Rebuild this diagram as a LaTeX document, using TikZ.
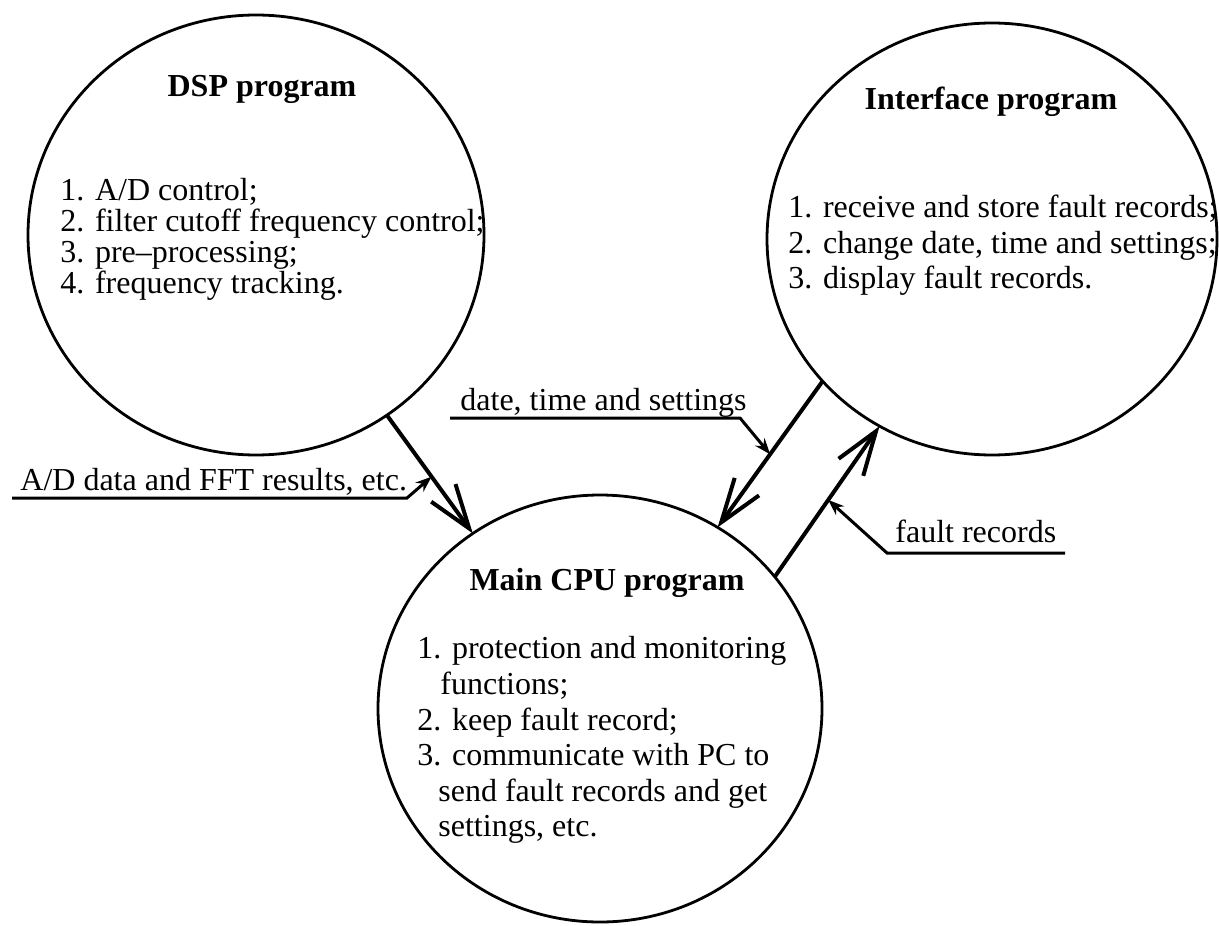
\documentclass[tikz,border=0pt]{standalone}
\usepackage{fontspec}
\setmainfont{Liberation Serif}
\usetikzlibrary{shapes.geometric,arrows.meta}
\begin{document}
\begin{tikzpicture}[x=0.5pt,y=-0.5pt,
  prog/.style={draw, ellipse, line width=1.4pt, inner sep=0pt, outer sep=0pt},
  title/.style={font=\fontsize{16}{18}\selectfont\bfseries, inner sep=0pt, anchor=base},
  item/.style={font=\fontsize{16}{18}\selectfont, inner sep=0pt, anchor=base west},
  flow/.style={line width=2pt, -{Straight Barb[length=22pt,width=15pt]}},
  callout/.style={line width=1.5pt, -{Stealth[length=8pt,width=6pt]}}]
\useasboundingbox (0,0) rectangle (1219,925);

% the three program bubbles
\node[prog, minimum width=228pt, minimum height=220pt] (dsp) at (256,235) {};
\node[prog, minimum width=225pt, minimum height=216pt] (iface) at (992,239) {};
\node[prog, minimum width=222pt, minimum height=213.5pt] (main) at (600,708.5) {};

% DSP program
\node[title] (dsp-t) at (262,97) {DSP program};
\node[item] (dsp-1) at (60,200) {1. A/D control;};
\node[item] (dsp-2) at (60,231) {2. filter cutoff frequency control;};
\node[item] (dsp-3) at (60,262) {3. pre--processing;};
\node[item] (dsp-4) at (60,293) {4. frequency tracking.};

% Interface program
\node[title] (if-t) at (991,110) {Interface program};
\node[item] (if-1) at (788,218) {1. receive and store fault records;};
\node[item] (if-2) at (788,253) {2. change date, time and settings;};
\node[item] (if-3) at (788,288) {3. display fault records.};

% Main CPU program
\node[title] (main-t) at (607,590) {Main CPU program};
\node[item] (main-1) at (417,658) {1. protection and monitoring};
\node[item] (main-1b) at (440,694) {functions;};
\node[item] (main-2) at (417,730) {2. keep fault record;};
\node[item] (main-3) at (417,765) {3. communicate with PC to};
\node[item] (main-3b) at (438,801) {send fault records and get};
\node[item] (main-3c) at (438,836) {settings, etc.};

% data flows between the programs
\draw[flow] (dsp) -- coordinate[pos=0.52] (j1) (main);
\draw[flow] (iface.220.3) -- coordinate[pos=0.5] (j2) (main.57.2);
\draw[flow] (main.37.4) -- coordinate[pos=0.51] (j3) (iface.239.4);

% flow labels with their leader lines
\coordinate (c1s) at (12,498);
\coordinate (c1k) at (407,498);
\node[item] (l1) at (20,490) {A/D data and FFT results, etc.};
\draw[callout] (c1s) -- (c1k) -- (j1);

\coordinate (c2s) at (450,418);
\coordinate (c2k) at (740,418);
\node[item] (l2) at (460,410) {date, time and settings};
\draw[callout] (c2s) -- (c2k) -- (j2);

\coordinate (c3s) at (1065,553);
\coordinate (c3k) at (887,553);
\node[item] (l3) at (895,542) {fault records};
\draw[callout] (c3s) -- (c3k) -- (j3);
\end{tikzpicture}
\end{document}
